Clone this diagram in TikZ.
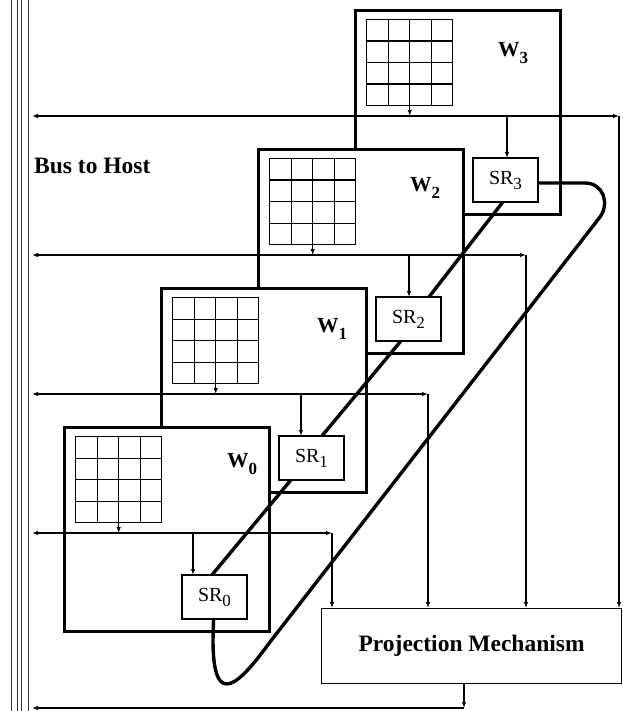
\documentclass[tikz,border=0pt]{standalone}
\usepackage{fontspec}
\setmainfont{Liberation Serif}
\usetikzlibrary{arrows.meta,calc}
\newcommand{\lowsub}[4]{#1\raisebox{-#3}{\fontsize{#4}{#4}\selectfont #2}}
\begin{document}
\begin{tikzpicture}[x=1pt,y=-1pt,
  win/.style={draw, line width=2.8pt, fill=white, minimum width=205pt, minimum height=204pt, inner sep=0pt, anchor=north west},
  gridbox/.style={draw, line width=1.4pt, minimum width=86pt, minimum height=86pt, inner sep=0pt, anchor=north west,
    path picture={
      \foreach \k in {1,2,3}{
        \draw[line width=1.4pt] ($(path picture bounding box.north west)!\k/4!(path picture bounding box.north east)$) -- ($(path picture bounding box.south west)!\k/4!(path picture bounding box.south east)$);
        \draw[line width=1.4pt] ($(path picture bounding box.north west)!\k/4!(path picture bounding box.south west)$) -- ($(path picture bounding box.north east)!\k/4!(path picture bounding box.south east)$);
      }}},
  srbox/.style={draw, line width=1.2pt, fill=white, minimum width=65pt, minimum height=44pt, inner sep=0pt, font=\fontsize{20}{20}\selectfont},
  wlabel/.style={font=\bfseries\fontsize{21.5}{22}\selectfont, inner sep=0pt, anchor=base west},
  tip/.tip={Latex[length=6pt,width=4.5pt]},
  conn/.style={line width=1.1pt, -tip},
  busline/.style={line width=1.1pt, tip-tip},
  heavy/.style={line width=3.4pt, line cap=round, line join=round},
  pmbox/.style={draw, line width=1.2pt, minimum width=300pt, minimum height=75pt, anchor=north west, inner sep=0pt, font=\bfseries\fontsize{23.5}{24}\selectfont}
]
\useasboundingbox (0,0) rectangle (622,711);
\fill[white] (0,0) rectangle (622,711);

% host bus (vertical lines)
\foreach \x in {11.5,17,21.5,28}
  \draw[line width=1pt, black!80] (\x,0) -- (\x,711);
\node[font=\bfseries\fontsize{23.5}{24}\selectfont, anchor=base west, inner sep=0pt] (bth) at (34,174) {Bus to Host};

% windows, back to front
\foreach \i/\off/\lx/\ly/\bx in {3/34/144/48/619, 2/33/153/44/526, 1/22/157/45/428, 0/11/164/41/332} {
  \pgfmathsetmacro{\ox}{63+97*\i}
  \pgfmathsetmacro{\oy}{426-139*\i}
  \node[win] (w\i) at (\ox,\oy) {};
  \node[gridbox] (g\i) at (\ox+12,\oy+10) {};
  \node[wlabel] (wl\i) at (\ox+\lx,\oy+\ly) {\lowsub{W}{\i}{7pt}{17}};
  \coordinate (hb\i) at (32,\oy+107);
  \coordinate (br\i) at (\bx,\oy+107);
  \node[srbox] (sr\i) at (\ox+151.5,\oy+171) {\lowsub{SR}{\i}{5pt}{17}};
  \coordinate (sa\i) at (\ox+119+\off,\oy+149);
  \draw[conn] (g\i.south) -- (g\i.south |- br\i);
  \draw[conn] (sa\i |- br\i) -- (sa\i);
  \draw[busline] (hb\i) -- (br\i);
}

% projection mechanism
\node[pmbox] (pm) at (321,608) {Projection Mechanism};
\foreach \i in {0,1,2,3}
  \draw[conn] (br\i) -- (br\i |- pm.north);
\coordinate (ob) at (464,708);
\coordinate (obl) at (32,708);
\draw[conn] (pm.south -| ob) -- (ob);
\draw[conn] (ob) -- (obl);

% shift register chain
\coordinate (s0t) at ($(sr0.north west)+(31,0)$);
\coordinate (s1b) at ($(sr1.south west)+(12,0)$);
\coordinate (s1t) at ($(sr1.north west)+(44,0)$);
\coordinate (s2b) at ($(sr2.south west)+(25,0)$);
\coordinate (s2t) at ($(sr2.north west)+(54,0)$);
\coordinate (s3b) at ($(sr3.south west)+(30,0)$);
\draw[heavy] (s0t) -- (s1b);
\draw[heavy] (s1t) -- (s2b);
\draw[heavy] (s2t) -- (s3b);
\coordinate (s3r) at ($(sr3.east)+(0,3)$);
\coordinate (s0b) at ($(sr0.south)+(-1,0)$);
\draw[heavy] (s3r) -- (585,183) .. controls (603,183) and (610,203) .. (600,217)
  -- (270,642) .. controls (240,683) and (213,712) .. (213,640) -- (s0b);
\end{tikzpicture}
\end{document}
